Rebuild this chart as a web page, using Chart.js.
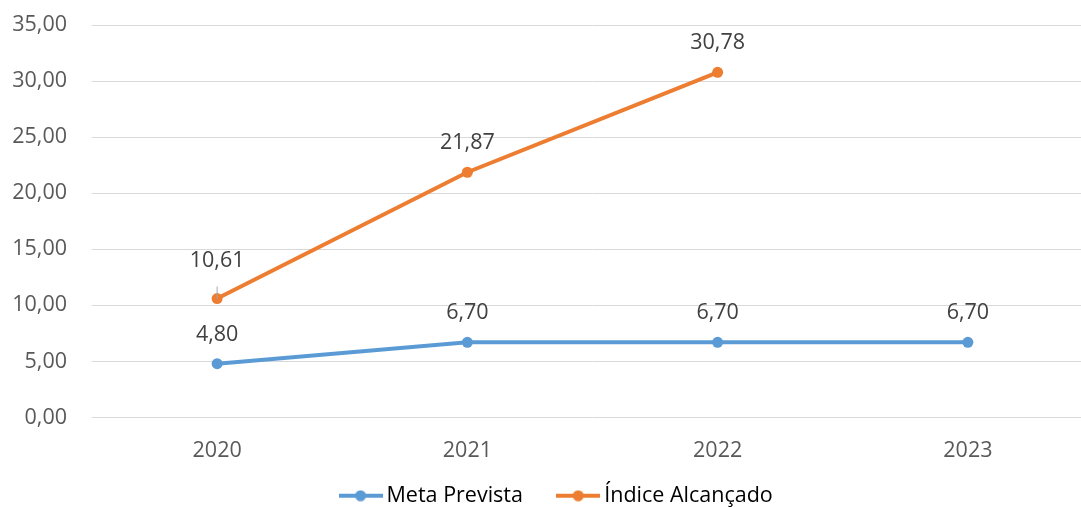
<!DOCTYPE html>
<html>
<head>
<meta charset="utf-8">
<script src="https://cdn.jsdelivr.net/npm/chart.js@4"></script>
<style>
  html, body { margin: 0; padding: 0; background: #fff; overflow: hidden; }
  #wrap { width: 1093px; height: 507px; }
</style>
</head>
<body>
<div id="wrap"><canvas id="chart"></canvas></div>
<script>
const years = ['2020', '2021', '2022', '2023'];
const metaPrevista = [4.80, 6.70, 6.70, 6.70];
const indiceAlcancado = [10.61, 21.87, 30.78, null];
const seriesNames = ['Meta Prevista', 'Índice Alcançado'];
const seriesColors = ['#5B9BD5', '#ED7D31'];

const fontFamily = '"Open Sans", "Noto Sans", sans-serif';
const fontSize = 21.5;

function fmt(v) {
    return v.toFixed(2).replace('.', ',');
}

// little line-with-dot marker for the legend
function legendMarker(color) {
    let c = document.createElement('canvas');
    c.width = 44;
    c.height = 12;
    let g = c.getContext('2d');
    g.strokeStyle = color;
    g.lineWidth = 4;
    g.beginPath();
    g.moveTo(0, 6);
    g.lineTo(44, 6);
    g.stroke();
    g.fillStyle = color;
    g.beginPath();
    g.arc(22, 6, 5.5, 0, Math.PI * 2);
    g.fill();
    return c;
}

const valueLabels = {
    id: 'valueLabels',
    afterDatasetsDraw(chart) {
        let ctx = chart.ctx;
        ctx.save();
        ctx.font = fontSize + 'px ' + fontFamily;
        ctx.textAlign = 'center';
        ctx.textBaseline = 'middle';
        chart.data.datasets.forEach((ds, i) => {
            let meta = chart.getDatasetMeta(i);
            meta.data.forEach((pt, j) => {
                let v = ds.data[j];
                if (v === null || v === undefined) return;
                let dy = 29;
                // first orange label was dragged up in the original, with a leader line
                if (i === 1 && j === 0) {
                    dy = 38;
                    ctx.strokeStyle = '#a6a6a6';
                    ctx.lineWidth = 1;
                    ctx.beginPath();
                    ctx.moveTo(pt.x, pt.y);
                    ctx.lineTo(pt.x, pt.y - 12);
                    ctx.stroke();
                }
                ctx.fillStyle = '#404040';
                ctx.fillText(fmt(v), pt.x, pt.y - dy);
            });
        });
        ctx.restore();
    }
};

// put the legend where the original has it
const legendShift = {
    id: 'legendShift',
    afterLayout(chart) {
        let lg = chart.legend;
        let h = lg.bottom - lg.top;
        lg.left = 25;
        lg.top = 445;
        lg.bottom = 445 + h;
    }
};

Chart.defaults.font.family = fontFamily;
Chart.defaults.font.size = fontSize;
Chart.defaults.color = '#595959';

let ctx = document.getElementById('chart');
let myChart = new Chart(ctx, {
    type: 'line',
    data: {
        labels: years,
        datasets: [
            {
                label: seriesNames[0],
                data: metaPrevista,
                borderColor: seriesColors[0],
                backgroundColor: seriesColors[0],
                borderWidth: 4,
                pointRadius: 5.5,
                pointHoverRadius: 5.5,
                pointBorderWidth: 0,
                tension: 0
            },
            {
                label: seriesNames[1],
                data: indiceAlcancado,
                borderColor: seriesColors[1],
                backgroundColor: seriesColors[1],
                borderWidth: 4,
                pointRadius: 5.5,
                pointHoverRadius: 5.5,
                pointBorderWidth: 0,
                tension: 0
            }
        ]
    },
    options: {
        responsive: true,
        maintainAspectRatio: false,
        animation: false,
        layout: { autoPadding: false, padding: { left: 0, top: 25, right: 0, bottom: -22 } },
        plugins: {
            tooltip: { enabled: false },
            legend: {
                position: 'bottom',
                labels: {
                    usePointStyle: true,
                    pointStyleWidth: 30.5,
                    padding: 40,
                    color: '#595959',
                    font: { size: fontSize },
                    generateLabels(chart) {
                        return chart.data.datasets.map((ds, i) => ({
                            text: ds.label,
                            pointStyle: legendMarker(seriesColors[i]),
                            fillStyle: seriesColors[i],
                            strokeStyle: seriesColors[i],
                            lineWidth: 0,
                            hidden: false,
                            datasetIndex: i
                        }));
                    }
                }
            }
        },
        scales: {
            x: {
                offset: true,
                grid: { display: false },
                border: { display: false },
                ticks: { padding: 12, color: '#595959' },
                afterFit(scale) { scale.height = 40; }
            },
            y: {
                min: 0,
                max: 35,
                grid: { color: '#d9d9d9', lineWidth: 1, drawTicks: false },
                border: { display: false },
                ticks: {
                    stepSize: 5,
                    padding: 25,
                    color: '#595959',
                    callback: v => fmt(v)
                },
                afterFit(scale) {
                    scale.width = 92;
                    scale.paddingTop = 0;
                    scale.paddingBottom = 0;
                }
            }
        }
    },
    plugins: [valueLabels, legendShift]
});
</script>
</body>
</html>
